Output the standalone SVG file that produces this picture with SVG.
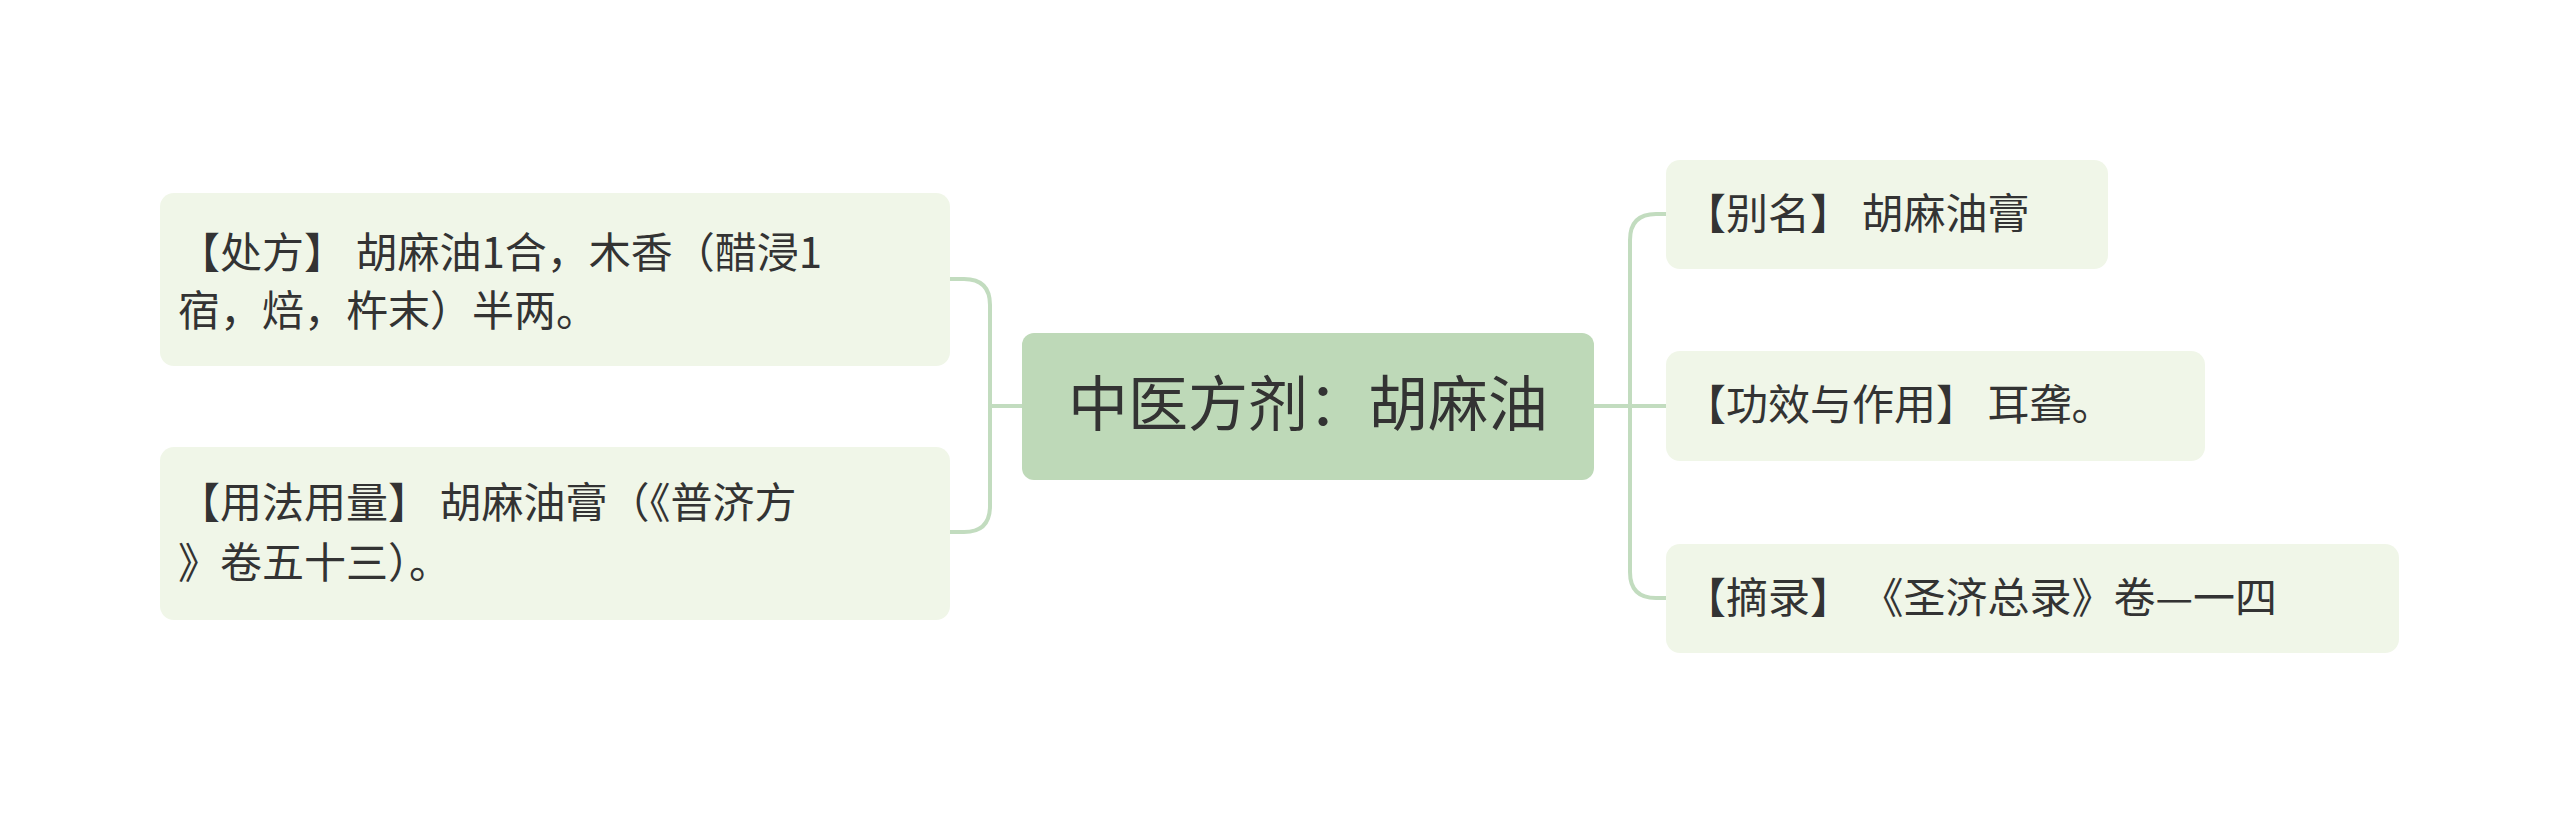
<svg xmlns="http://www.w3.org/2000/svg" width="2560" height="813" viewBox="0 0 2560 813">
<style>
.leaf{fill:#f0f6e8}
.t{font-family:"Noto Sans CJK SC","Noto Sans",sans-serif;fill:#333;font-size:42px}
.c{fill:none;stroke:#c2dcbf;stroke-width:4}
</style>
<rect width="2560" height="813" fill="#fff"/>
<g id="connectors">
<path class="c" d="M1022 406H990M990 406V305Q990 279 964 279H950M990 406V506Q990 532 964 532H950"/>
<path class="c" d="M1594 406H1630M1630 406V240Q1630 214 1656 214H1666M1630 406H1666M1630 406V572Q1630 598 1656 598H1666"/>
</g>
<g id="center"><rect x="1022" y="333" width="572" height="147" rx="12" fill="#bed9b8"/>
<text x="1308" y="426" text-anchor="middle" class="t" style="font-size:60px">中医方剂：胡麻油</text></g>
<g id="n1"><rect class="leaf" x="160" y="193" width="790" height="173" rx="14"/>
<text class="t" x="178" y="268">【处方】 胡麻油1合，木香（醋浸1</text>
<text class="t" x="178" y="326">宿，焙，杵末）半两。</text></g>
<g id="n2"><rect class="leaf" x="160" y="447" width="790" height="173" rx="14"/>
<text class="t" x="178" y="518">【用法用量】 胡麻油膏（《普济方</text>
<text class="t" x="178" y="578">》卷五十三）。</text></g>
<g id="n3"><rect class="leaf" x="1666" y="160" width="442" height="109" rx="14"/>
<text class="t" x="1684" y="229">【别名】 胡麻油膏</text></g>
<g id="n4"><rect class="leaf" x="1666" y="351" width="539" height="110" rx="14"/>
<text class="t" x="1684" y="420">【功效与作用】 耳聋。</text></g>
<g id="n5"><rect class="leaf" x="1666" y="544" width="733" height="109" rx="14"/>
<text class="t" x="1684" y="613">【摘录】 《圣济总录》卷—一四</text></g>
</svg>
